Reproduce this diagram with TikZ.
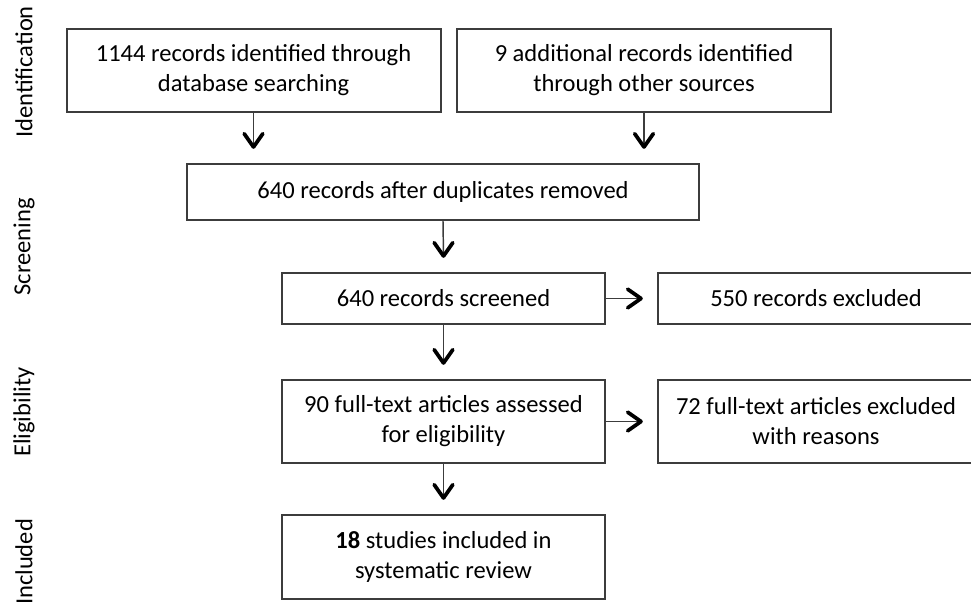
\documentclass[tikz,border=0pt]{standalone}
\usepackage{fontspec}
\setmainfont{Carlito}
\definecolor{edge}{HTML}{3C3C3C}
\begin{document}
\begin{tikzpicture}[x=0.75pt,y=-0.75pt,
  box/.style={draw=edge,line width=1.5pt,align=center,inner sep=0pt,
    font=\fontsize{18.4}{22.5}\selectfont},
  side/.style={rotate=90,font=\fontsize{18.4}{22.5}\selectfont,inner sep=0pt},
  shaft/.style={draw=edge,line width=1.1pt},
  head/.style={draw=black,line width=2.8pt,line cap=round,line join=round}]
\useasboundingbox (0,0) rectangle (971,607);
\clip (0,0) rectangle (971,607);
% side labels
\node[side] (lid) at (24,72) {Identification};
\node[side] (lsc) at (24,247) {Screening};
\node[side] (lel) at (24,412) {Eligibility};
\node[side] (lin) at (24,562) {Included};
% boxes
\node[box,minimum width=374*0.75pt,minimum height=83*0.75pt] (b1) at (253.5,70.5)
  {1144 records identified through\\database searching};
\node[box,minimum width=374*0.75pt,minimum height=83*0.75pt] (b2) at (644,70.5)
  {9 additional records identified\\through other sources};
\node[box,minimum width=512*0.75pt,minimum height=56*0.75pt] (b3) at (443,192)
  {640 records after duplicates removed};
\node[box,minimum width=323*0.75pt,minimum height=51*0.75pt] (b4) at (443.5,298.5)
  {640 records screened};
\node[box,minimum width=332*0.75pt,minimum height=51*0.75pt] (b5) at (824,298.5)
  {\hspace*{-12pt}550 records excluded};
\node[box,minimum width=323*0.75pt,minimum height=83*0.75pt] (b6) at (443.5,421.5)
  {90 full-text articles assessed\\for eligibility};
\node[box,minimum width=332*0.75pt,minimum height=83*0.75pt] (b7) at (824,421.5)
  {\hspace*{-12pt}72 full-text articles excluded\\\hspace*{-12pt}with reasons};
\node[box,minimum width=323*0.75pt,minimum height=84*0.75pt] (b8) at (443.5,557)
  {\textbf{18} studies included in\\systematic review};
% arrow shafts (down arrows end 15px above the next box, right arrows 16px before)
\draw[shaft] (b1.south) -- ([yshift=12pt]b1.south |- b3.north) coordinate (t1);
\draw[shaft] (b2.south) -- ([yshift=12pt]b2.south |- b3.north) coordinate (t2);
\draw[shaft] (b3.south) -- ([yshift=12pt]b4.north) coordinate (t3);
\draw[shaft] (b4.east) -- ([xshift=-12pt]b5.west |- b4.east) coordinate (t4);
\draw[shaft] (b4.south) -- ([yshift=12pt]b6.north) coordinate (t5);
\draw[shaft] (b6.east) -- ([xshift=-12pt]b7.west |- b6.east) coordinate (t6);
\draw[shaft] (b6.south) -- ([yshift=12pt]b8.north) coordinate (t7);
% arrow heads (open chevrons)
\foreach \t in {t1,t2,t3,t5,t7}
  \draw[head] ([xshift=-7pt,yshift=10pt]\t) -- (\t) -- ([xshift=7pt,yshift=10pt]\t);
\foreach \t in {t4,t6}
  \draw[head] ([xshift=-10pt,yshift=7pt]\t) -- (\t) -- ([xshift=-10pt,yshift=-7pt]\t);
\end{tikzpicture}
\end{document}
